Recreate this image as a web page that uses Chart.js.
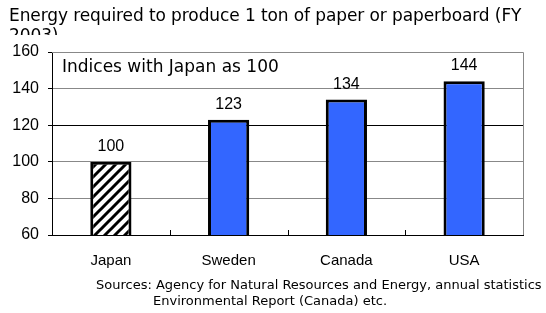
<!DOCTYPE html>
<html>
<head>
<meta charset="utf-8">
<script src="https://cdn.jsdelivr.net/npm/chart.js@4"></script>
<style>
  html, body { margin: 0; padding: 0; background: #fff; }
  #wrap { position: relative; width: 546px; height: 313px; }
  #title {
    position: absolute; left: 9px; top: 5px; width: 540px; height: 30px;
    overflow: hidden; font: 17px "DejaVu Sans", sans-serif;
    letter-spacing: -0.1px; line-height: 20px; color: #000; white-space: nowrap;
  }
</style>
</head>
<body>
<div id="wrap">
  <canvas id="chart" width="546" height="313"></canvas>
  <div id="title">Energy required to produce 1 ton of paper or paperboard (FY<br>2003)</div>
</div>
<script>
const countries = ["Japan", "Sweden", "Canada", "USA"];
const indexValues = [100, 123, 134, 144];
const yTicks = [60, 80, 100, 120, 140, 160];
const noteText = "Indices with Japan as 100";
const sourceLines = [
  "Sources: Agency for Natural Resources and Energy, annual statistics",
  "Environmental Report (Canada) etc."
];

const FONT = '"Liberation Sans", Arial, sans-serif';
const WIDE = '"DejaVu Sans", sans-serif';

// diagonal hatch for the Japan bar
function makeHatch() {
  const c = document.createElement("canvas");
  c.width = 10; c.height = 10;
  const g = c.getContext("2d");
  g.fillStyle = "#fff";
  g.fillRect(0, 0, 10, 10);
  g.strokeStyle = "#000";
  g.lineWidth = 3;
  g.beginPath();
  g.moveTo(-2, 12); g.lineTo(12, -2);
  g.moveTo(-7, 7); g.lineTo(7, -7);
  g.moveTo(3, 17); g.lineTo(17, 3);
  g.stroke();
  return g.createPattern(c, "repeat");
}

const ctx = document.getElementById("chart").getContext("2d");
const hatch = makeHatch();

const extrasPlugin = {
  id: "extras",
  beforeDatasetsDraw(chart) {
    const a = chart.chartArea;
    const c = chart.ctx;
    c.save();
    // gray frame top / right
    c.strokeStyle = "#888";
    c.lineWidth = 1;
    c.beginPath();
    c.moveTo(a.left, a.top + 0.5); c.lineTo(a.right + 0.5, a.top + 0.5);
    c.lineTo(a.right + 0.5, a.bottom);
    c.stroke();
    // small category tick marks pointing up
    const x = chart.scales.x;
    c.strokeStyle = "#000";
    c.beginPath();
    for (let i = 1; i < countries.length; i++) {
      const px = Math.round((x.getPixelForTick(i - 1) + x.getPixelForTick(i)) / 2) + 0.5;
      c.moveTo(px, a.bottom); c.lineTo(px, a.bottom - 5);
    }
    c.stroke();
    c.restore();
  },
  afterDatasetsDraw(chart) {
    const a = chart.chartArea;
    const c = chart.ctx;
    c.save();
    c.fillStyle = "#000";
    c.font = "17px " + WIDE;
    c.textAlign = "left";
    c.textBaseline = "alphabetic";
    c.fillText(noteText, a.left + 10, a.top + 20);
    // value labels
    c.font = "16px " + FONT;
    c.textAlign = "center";
    chart.getDatasetMeta(0).data.forEach((bar, i) => {
      c.fillText(String(indexValues[i]), bar.x, bar.y - 11);
    });
    // sources
    c.font = "13px " + WIDE;
    c.textAlign = "left";
    c.fillText(sourceLines[0], 96, 289);
    c.fillText(sourceLines[1], 153, 305);
    c.restore();
  }
};

new Chart(ctx, {
  type: "bar",
  data: {
    labels: countries,
    datasets: [{
      data: indexValues,
      backgroundColor: indexValues.map((v, i) => i === 0 ? hatch : "#3366FF"),
      borderColor: "#000",
      borderWidth: 3,
      borderSkipped: false,
      barPercentage: 0.35,
      categoryPercentage: 1
    }]
  },
  options: {
    responsive: false,
    animation: false,
    events: [],
    layout: { padding: { left: 0, right: 23, top: 52, bottom: 0 } },
    plugins: {
      legend: { display: false },
      tooltip: { enabled: false },
      title: { display: false }
    },
    scales: {
      x: {
        grid: { display: false, drawTicks: false },
        border: { color: "#000", width: 1 },
        ticks: { color: "#000", font: { size: 15, family: FONT }, padding: 17 },
        afterFit(s) { s.height = 78; }
      },
      y: {
        min: yTicks[0],
        max: yTicks[yTicks.length - 1],
        afterBuildTicks(s) { s.ticks = yTicks.map(v => ({ value: v })); },
        grid: {
          drawTicks: true,
          tickLength: 4,
          tickColor: "#000",
          color: c => c.tick && c.tick.value === 120 ? "#000" : "#888"
        },
        border: { color: "#000", width: 1 },
        ticks: { color: "#000", font: { size: 16, family: FONT }, padding: 9 },
        afterFit(s) { s.width = 52; }
      }
    }
  },
  plugins: [extrasPlugin]
});
</script>
</body>
</html>
